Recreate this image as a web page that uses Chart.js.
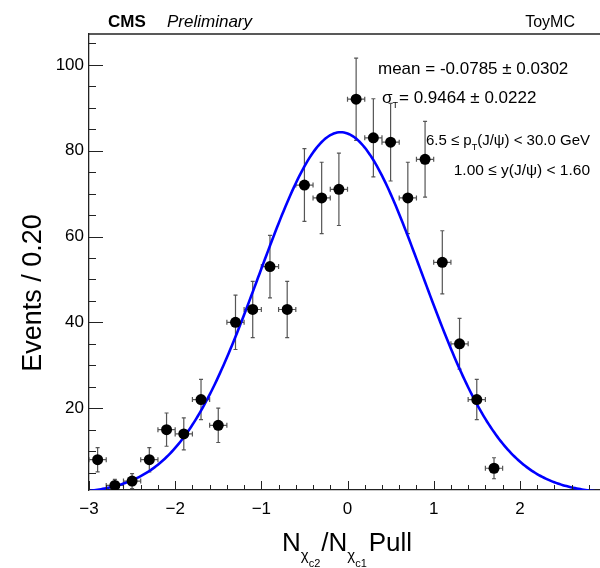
<!DOCTYPE html>
<html>
<head>
<meta charset="utf-8">
<script src="https://cdn.jsdelivr.net/npm/chart.js@4.4.0/dist/chart.umd.min.js"></script>
<style>
  html, body { margin: 0; padding: 0; background: #fff; }
  #pullChart { display: block; }
</style>
</head>
<body>
<canvas id="pullChart" width="600" height="568"></canvas>
<script>
// pull histogram, bins of width 0.2
var binCenters = [-2.9, -2.7, -2.5, -2.3, -2.1, -1.9, -1.7, -1.5, -1.3, -1.1, -0.9, -0.7,
                  -0.5, -0.3, -0.1, 0.1, 0.3, 0.5, 0.7, 0.9, 1.1, 1.3, 1.5, 1.7];
var binCounts = [8, 2, 3, 8, 15, 14, 22, 16, 40, 43, 53, 43,
                 72, 69, 71, 92, 83, 82, 69, 78, 54, 35, 22, 6];
var binWidth = 0.2;

var xTickValues = [-3, -2, -1, 0, 1, 2];
var yTickValues = [20, 40, 60, 80, 100];

// gaussian fit result
var fitMean = -0.0785, fitMeanErr = 0.0302;
var fitSigma = 0.9464, fitSigmaErr = 0.0222;

var FONT = "'Liberation Sans', Arial, sans-serif";

var nTotal = binCounts.reduce(function (a, b) { return a + b; }, 0);
var fitAmp = nTotal * binWidth / (fitSigma * Math.sqrt(2 * Math.PI));

var points = binCenters.map(function (c, i) { return { x: c, y: binCounts[i] }; });
var curve = [];
for (var k = -300; k <= 296; k += 2) {
  var xv = k / 100;
  var d = (xv - fitMean) / fitSigma;
  curve.push({ x: xv, y: fitAmp * Math.exp(-0.5 * d * d) });
}

function runsWidth(ctx, runs) {
  var w = 0;
  runs.forEach(function (r) { ctx.font = r.font; w += ctx.measureText(r.text).width + (r.kern || 0); });
  return w;
}
function drawRuns(ctx, x, y, runs) {
  runs.forEach(function (r) {
    ctx.font = r.font;
    ctx.fillText(r.text, x, y + (r.dy || 0));
    x += ctx.measureText(r.text).width + (r.kern || 0);
  });
}

var rootStyle = {
  id: 'rootStyle',
  beforeDatasetsDraw: function (chart) {
    var ctx = chart.ctx, xs = chart.scales.x, ys = chart.scales.y, a = chart.chartArea;
    ctx.save();
    ctx.beginPath();
    ctx.rect(a.left, a.top, a.right - a.left, a.bottom - a.top);
    ctx.clip();
    ctx.strokeStyle = '#555';
    ctx.lineWidth = 1.2;
    binCenters.forEach(function (c, i) {
      var n = binCounts[i], e = Math.sqrt(n);
      var px = xs.getPixelForValue(c), py = ys.getPixelForValue(n);
      var yLo = ys.getPixelForValue(n - e), yHi = ys.getPixelForValue(n + e);
      var xLo = xs.getPixelForValue(c - binWidth / 2), xHi = xs.getPixelForValue(c + binWidth / 2);
      ctx.beginPath();
      ctx.moveTo(px, yLo); ctx.lineTo(px, yHi);
      ctx.moveTo(px - 2, yLo); ctx.lineTo(px + 2, yLo);
      ctx.moveTo(px - 2, yHi); ctx.lineTo(px + 2, yHi);
      ctx.moveTo(xLo, py); ctx.lineTo(xHi, py);
      ctx.moveTo(xLo, py - 2.5); ctx.lineTo(xLo, py + 2.5);
      ctx.moveTo(xHi, py - 2.5); ctx.lineTo(xHi, py + 2.5);
      ctx.stroke();
    });
    ctx.restore();
  },
  afterDraw: function (chart) {
    var ctx = chart.ctx, xs = chart.scales.x, ys = chart.scales.y, a = chart.chartArea;
    ctx.save();
    // frame top and inward ticks
    ctx.strokeStyle = '#222';
    ctx.lineWidth = 1.3;
    ctx.beginPath();
    ctx.moveTo(a.left, a.top); ctx.lineTo(a.right, a.top);
    ctx.stroke();
    ctx.lineWidth = 1;
    ctx.beginPath();
    for (var k = -15; k <= 15; k++) {
      var v = k * 0.2;
      if (v > xs.max) break;
      var px = Math.round(xs.getPixelForValue(v)) + 0.5;
      var len = (k % 5 === 0) ? 9 : 5;
      ctx.moveTo(px, a.bottom); ctx.lineTo(px, a.bottom - len);
    }
    for (var m = 5; m <= 105; m += 5) {
      var py = Math.round(ys.getPixelForValue(m)) + 0.5;
      var ylen = (m % 20 === 0) ? 14 : 7;
      ctx.moveTo(a.left, py); ctx.lineTo(a.left + ylen, py);
    }
    ctx.stroke();

    ctx.fillStyle = '#000';
    ctx.textBaseline = 'alphabetic';
    ctx.textAlign = 'left';
    // header
    ctx.font = 'bold 17px ' + FONT;
    ctx.fillText('CMS', 108, 27);
    ctx.font = 'italic 17px ' + FONT;
    ctx.fillText('Preliminary', 167, 27);
    ctx.font = '16px ' + FONT;
    ctx.textAlign = 'right';
    ctx.fillText('ToyMC', 575, 27);
    ctx.textAlign = 'left';

    // fit parameters
    ctx.font = '17px ' + FONT;
    ctx.fillText('mean = ' + fitMean.toFixed(4) + ' \u00b1 ' + fitMeanErr.toFixed(4), 378, 74);
    drawRuns(ctx, 382, 103, [
      { text: '\u03c3', font: '17px ' + FONT },
      { text: 'T', font: '9px ' + FONT, dy: 5, kern: 1 },
      { text: '= ' + fitSigma.toFixed(4) + ' \u00b1 ' + fitSigmaErr.toFixed(4), font: '17px ' + FONT }
    ]);
    var ptRuns = [
      { text: '6.5 \u2264 p', font: '15px ' + FONT },
      { text: 'T', font: '9px ' + FONT, dy: 5 },
      { text: '(J/\u03c8) < 30.0 GeV', font: '15px ' + FONT }
    ];
    drawRuns(ctx, 590 - runsWidth(ctx, ptRuns), 145, ptRuns);
    ctx.font = '15.5px ' + FONT;
    ctx.textAlign = 'right';
    ctx.fillText('1.00 \u2264 y(J/\u03c8) < 1.60', 590, 175);

    // y title
    ctx.save();
    ctx.translate(34, 293);
    ctx.rotate(-Math.PI / 2);
    ctx.textAlign = 'center';
    ctx.textBaseline = 'middle';
    ctx.font = '27px ' + FONT;
    ctx.fillText('Events / 0.20', 0, 0);
    ctx.restore();

    // x title
    ctx.textAlign = 'left';
    drawRuns(ctx, 282, 551, [
      { text: 'N', font: '26px ' + FONT },
      { text: '\u03c7', font: '15px ' + FONT, dy: 9 },
      { text: 'c2', font: '11px ' + FONT, dy: 16, kern: 1 },
      { text: '/N', font: '26px ' + FONT },
      { text: '\u03c7', font: '15px ' + FONT, dy: 9 },
      { text: 'c1', font: '11px ' + FONT, dy: 16, kern: 2 },
      { text: 'Pull', font: '26px ' + FONT }
    ]);
    ctx.restore();
  }
};

var ctx = document.getElementById('pullChart').getContext('2d');
var pullChart = new Chart(ctx, {
  type: 'scatter',
  data: {
    datasets: [{
      label: 'toy pulls',
      data: points,
      backgroundColor: '#000',
      borderColor: '#000',
      pointRadius: 5.5,
      pointHoverRadius: 5.5,
      borderWidth: 0
    }, {
      label: 'gaussian fit',
      data: curve,
      showLine: true,
      borderColor: '#0000ff',
      borderWidth: 2.6,
      pointRadius: 0,
      fill: false,
      tension: 0
    }]
  },
  options: {
    responsive: false,
    animation: false,
    layout: { autoPadding: false, padding: { top: 34, right: 0, bottom: 0, left: 0 } },
    plugins: { legend: { display: false }, tooltip: { enabled: false } },
    scales: {
      x: {
        type: 'linear',
        min: -3,
        max: 2.93,
        afterFit: function (s) { s.height = 78; },
        afterBuildTicks: function (s) { s.ticks = xTickValues.map(function (v) { return { value: v }; }); },
        grid: { display: false, drawTicks: false },
        border: { display: true, color: '#222', width: 1.3 },
        ticks: {
          padding: 9,
          color: '#000',
          font: { family: FONT, size: 17 },
          maxRotation: 0,
          autoSkip: false,
          callback: function (v) { return v < 0 ? '\u2212' + Math.abs(v) : String(v); }
        }
      },
      y: {
        type: 'linear',
        min: 0.93,
        max: 107.2,
        afterFit: function (s) { s.width = 89; },
        afterBuildTicks: function (s) { s.ticks = yTickValues.map(function (v) { return { value: v }; }); },
        grid: { display: false, drawTicks: false },
        border: { display: true, color: '#222', width: 1.3 },
        ticks: {
          padding: 5,
          color: '#000',
          font: { family: FONT, size: 17 },
          autoSkip: false
        }
      }
    }
  },
  plugins: [rootStyle]
});
</script>
</body>
</html>
